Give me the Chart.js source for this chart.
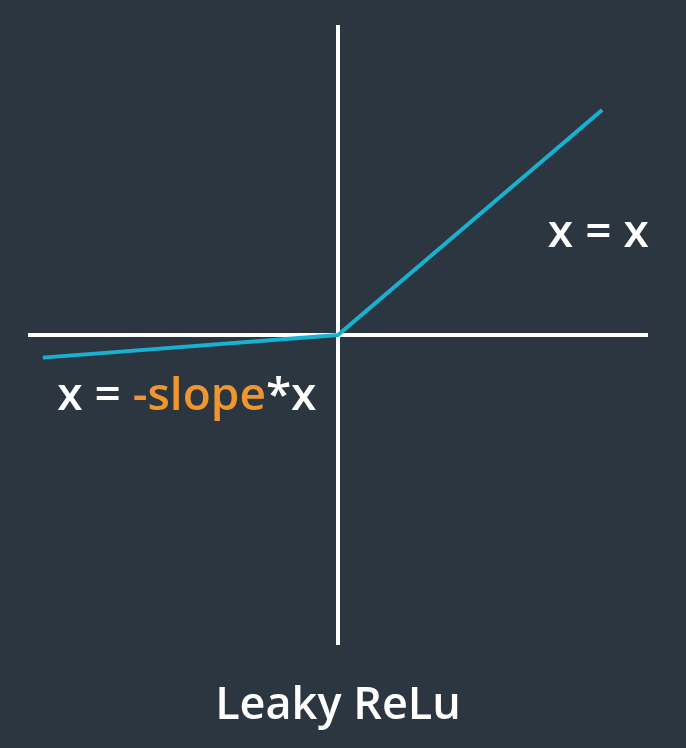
<!DOCTYPE html>
<html>
<head>
<meta charset="utf-8">
<script src="https://cdn.jsdelivr.net/npm/chart.js@4"></script>
<style>
  html, body { margin: 0; padding: 0; background: #2c3640; }
  #wrap { width: 686px; height: 748px; }
</style>
</head>
<body>
<div id="wrap"><canvas id="chart" width="686" height="748"></canvas></div>
<script>
// leaky relu curve
const reluX = [-0.952, 0, 0.852];
const reluY = [-0.073, 0, 0.726];

// the two axes through the origin
const axisH = [[-1, 0], [1, 0]];
const axisV = [[0, -1], [0, 1]];

const titleText = 'Leaky ReLu';

const BG = '#2c3640';
const CYAN = '#17b2d2';
const ORANGE = '#f0962f';
const WHITE = '#ffffff';
const FONT = '"Open Sans", "Noto Sans", sans-serif';

// text labels drawn at data positions
const textLabels = [
  { x: 0.677, y: 0.284, parts: [['x = x', WHITE]] },
  { x: -0.906, y: -0.242, parts: [['x = ', WHITE], ['-slope', ORANGE], ['*x', WHITE]] }
];

const textPlugin = {
  id: 'textLabels',
  beforeDraw(chart) {
    const { ctx } = chart;
    ctx.save();
    ctx.fillStyle = BG;
    ctx.fillRect(0, 0, chart.width, chart.height);
    ctx.restore();
  },
  afterDatasetsDraw(chart) {
    const { ctx, scales } = chart;
    ctx.save();
    ctx.font = '600 46px ' + FONT;
    ctx.textBaseline = 'alphabetic';
    ctx.textAlign = 'left';
    textLabels.forEach(lbl => {
      let px = scales.x.getPixelForValue(lbl.x);
      const py = scales.y.getPixelForValue(lbl.y);
      lbl.parts.forEach(([txt, col]) => {
        ctx.fillStyle = col;
        ctx.fillText(txt, px, py);
        px += ctx.measureText(txt).width;
      });
    });
    ctx.restore();
  }
};

const toPts = (xs, ys) => xs.map((x, i) => ({ x, y: ys[i] }));
const pairPts = arr => arr.map(([x, y]) => ({ x, y }));

new Chart(document.getElementById('chart'), {
  type: 'scatter',
  data: {
    datasets: [
      {
        data: pairPts(axisH),
        showLine: true,
        borderColor: WHITE,
        borderWidth: 4,
        pointRadius: 0,
        order: 2
      },
      {
        data: pairPts(axisV),
        showLine: true,
        borderColor: WHITE,
        borderWidth: 4,
        pointRadius: 0,
        order: 2
      },
      {
        data: toPts(reluX, reluY),
        showLine: true,
        borderColor: CYAN,
        borderWidth: 4,
        pointRadius: 0,
        order: 1
      }
    ]
  },
  options: {
    responsive: false,
    animation: false,
    layout: { padding: { left: 28, right: 38, top: 25, bottom: 15 } },
    scales: {
      x: { type: 'linear', min: -1, max: 1, display: false },
      y: { type: 'linear', min: -1, max: 1, display: false }
    },
    plugins: {
      legend: { display: false },
      tooltip: { enabled: false },
      title: {
        display: true,
        position: 'bottom',
        text: titleText,
        color: WHITE,
        font: { family: FONT, size: 45, weight: '600' },
        padding: { top: 34, bottom: 0 }
      }
    }
  },
  plugins: [textPlugin]
});
</script>
</body>
</html>
